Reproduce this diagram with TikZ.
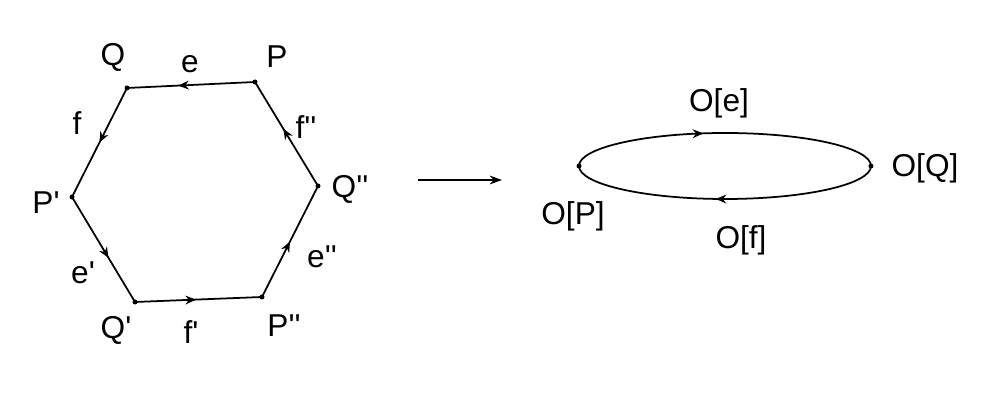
\documentclass[tikz,border=0pt]{standalone}
\usepackage{fontspec}
\setmainfont{Liberation Sans}
\usetikzlibrary{arrows.meta,decorations.markings}
\newcommand{\pr}{\textquotesingle}

\begin{document}
\begin{tikzpicture}[x=0.02cm,y=0.02cm,line width=1pt,
    lbl/.style={font=\fontsize{18}{20}\selectfont,inner sep=0pt},
    midarrow/.style={postaction={decorate},decoration={markings,
      mark=at position #1 with {\arrow{Stealth[length=6pt,width=5pt]}}}},
    midarrow/.default=0.55]
  \useasboundingbox (0,-404) rectangle (981,0);
  % the hexagon
  \coordinate (Q) at (127,-88);
  \coordinate (P) at (255,-82);
  \coordinate (Q2) at (318,-186);
  \coordinate (P2) at (262,-297);
  \coordinate (Q1) at (135,-302);
  \coordinate (P1) at (72,-197);
  \draw[midarrow=0.6] (P) -- (Q);
  \draw[midarrow=0.5] (Q) -- (P1);
  \draw[midarrow=0.58] (P1) -- (Q1);
  \draw[midarrow=0.48] (Q1) -- (P2);
  \draw[midarrow=0.5] (P2) -- (Q2);
  \draw[midarrow=0.55] (Q2) -- (P);
  \foreach \v in {Q,P,Q2,P2,Q1,P1}
    \fill (\v) circle (2.5);
  \node[lbl] (lQ) at (113,-57) {Q};
  \node[lbl] (le) at (190,-64) {e};
  \node[lbl] (lP) at (277,-57) {P};
  \node[lbl] (lf) at (77,-123) {f};
  \node[lbl] (lf2) at (306,-127) {f\pr\pr};
  \node[lbl] (lQ2) at (350,-189) {Q\pr\pr};
  \node[lbl] (lP1) at (46,-203) {P\pr};
  \node[lbl] (le1) at (83,-273) {e\pr};
  \node[lbl] (le2) at (322,-257) {e\pr\pr};
  \node[lbl] (lQ1) at (116,-330) {Q\pr};
  \node[lbl] (lf1) at (191,-332) {f\pr};
  \node[lbl] (lP2) at (284,-326) {P\pr\pr};
  % the map
  \coordinate (m1) at (418,-180);
  \coordinate (m2) at (502,-180);
  \draw[-{Stealth[length=7pt,width=5pt]}] (m1) -- (m2);
  % the quotient
  \coordinate (OP) at (579,-166);
  \coordinate (OQ) at (871,-166);
  \draw[midarrow=0.43] (OP) arc[start angle=180,end angle=0,x radius=146,y radius=33];
  \draw[midarrow=0.53] (OQ) arc[start angle=0,end angle=-180,x radius=146,y radius=33];
  \fill (OP) circle (2.5);
  \fill (OQ) circle (2.5);
  \node[lbl] (lOe) at (719,-103) {O[e]};
  \node[lbl] (lOQ) at (925,-168) {O[Q]};
  \node[lbl] (lOP) at (573,-216) {O[P]};
  \node[lbl] (lOf) at (741,-240) {O[f]};
\end{tikzpicture}
\end{document}
